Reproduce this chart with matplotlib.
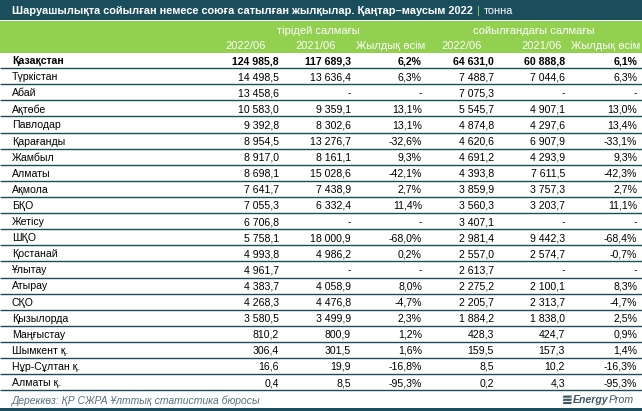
import matplotlib
matplotlib.use("Agg")
import matplotlib.pyplot as plt
from matplotlib.patches import Rectangle, Polygon

plt.rcParams["font.family"] = ["Liberation Sans", "DejaVu Sans"]

DARK = "#1b4e5d"
GREEN = "#92d050"
FOOT = "#55717a"

title = "Шаруашылықта сойылған немесе союға сатылған жылқылар. Қаңтар–маусым 2022"
unit = "тонна"
groups = ["тірідей салмағы", "сойылғандағы салмағы"]
col_heads = ["2022/06", "2021/06", "Жылдық өсім", "2022/06", "2021/06", "Жылдық өсім"]
source = "Дереккөз: ҚР СЖРА Ұлттық статистика бюросы"

regions = ["Қазақстан", "Түркістан", "Абай", "Ақтөбе", "Павлодар", "Қарағанды", "Жамбыл",
           "Алматы", "Ақмола", "БҚО", "Жетісу", "ШҚО", "Қостанай", "Ұлытау", "Атырау",
           "СҚО", "Қызылорда", "Маңғыстау", "Шымкент қ.", "Нұр-Сұлтан қ.", "Алматы қ."]
live_2022 = [124985.8, 14498.5, 13458.6, 10583.0, 9392.8, 8954.5, 8917.0, 8698.1, 7641.7,
             7055.3, 6706.8, 5758.1, 4993.8, 4961.7, 4383.7, 4268.3, 3580.5, 810.2, 306.4,
             16.6, 0.4]
live_2021 = [117689.3, 13636.4, None, 9359.1, 8302.6, 13276.7, 8161.1, 15028.6, 7438.9,
             6332.4, None, 18000.9, 4986.2, None, 4058.9, 4476.8, 3499.9, 800.9, 301.5,
             19.9, 8.5]
live_growth = [6.2, 6.3, None, 13.1, 13.1, -32.6, 9.3, -42.1, 2.7, 11.4, None, -68.0, 0.2,
               None, 8.0, -4.7, 2.3, 1.2, 1.6, -16.8, -95.3]
slaught_2022 = [64631.0, 7488.7, 7075.3, 5545.7, 4874.8, 4620.6, 4691.2, 4393.8, 3859.9,
                3560.3, 3407.1, 2981.4, 2557.0, 2613.7, 2275.2, 2205.7, 1884.2, 428.3, 159.5,
                8.5, 0.2]
slaught_2021 = [60888.8, 7044.6, None, 4907.1, 4297.6, 6907.9, 4293.9, 7611.5, 3757.3,
                3203.7, None, 9442.3, 2574.7, None, 2100.1, 2313.7, 1838.0, 424.7, 157.3,
                10.2, 4.3]
slaught_growth = [6.1, 6.3, None, 13.0, 13.4, -33.1, 9.3, -42.3, 2.7, 11.1, None, -68.4,
                  -0.7, None, 8.3, -4.7, 2.5, 0.9, 1.4, -16.3, -95.3]


def fmt_num(v):
    if v is None:
        return "-"
    return f"{v:,.1f}".replace(",", " ").replace(".", ",")


def fmt_pct(v):
    if v is None:
        return "-"
    return f"{v:.1f}%".replace(".", ",")


columns = [(live_2022, fmt_num), (live_2021, fmt_num), (live_growth, fmt_pct),
           (slaught_2022, fmt_num), (slaught_2021, fmt_num), (slaught_growth, fmt_pct)]
data_x = [279, 351, 422, 494, 565, 637]
head_x = [266, 336, 425, 482, 562, 640]
group_x = [318, 534]

W, H = 642, 411
fig = plt.figure(figsize=(W / 100, H / 100), dpi=100)
ax = fig.add_axes([0, 0, 1, 1])
ax.set_xlim(0, W); ax.set_ylim(H, 0); ax.axis("off")

# title bar + green header band
ax.add_patch(Rectangle((0, 0), W, 20, color=DARK, lw=0))
ax.add_patch(Rectangle((0, 21.5), W, 31.5, color=GREEN, lw=0))
t = ax.text(12, 10.5, title, color="white", fontsize=7.9, fontweight="bold", va="center")
fig.canvas.draw()
bb = t.get_window_extent().transformed(ax.transData.inverted())
t2 = ax.text(bb.x1 + 4, 10.5, "|", color=GREEN, fontsize=7.9, va="center")
bb2 = t2.get_window_extent().transformed(ax.transData.inverted())
ax.text(bb2.x1 + 4, 10.5, unit, color="white", fontsize=7.9, va="center")

for gx, g in zip(group_x, groups):
    ax.text(gx, 30.5, g, color="white", fontsize=8, ha="center", va="center")
for hx, h in zip(head_x, col_heads):
    ax.text(hx, 46, h, color="white", fontsize=8, ha="right", va="center")

# rows
y0, pitch = 68.2, 16.1
for i, name in enumerate(regions):
    line_y = y0 + i * pitch
    yc = line_y - 7.2
    bold = "bold" if i == 0 else "normal"
    ax.text(12, yc, name, fontsize=7.6, fontweight=bold, va="center", color="black")
    for (vals, f), cx in zip(columns, data_x):
        ax.text(cx, yc, f(vals[i]), fontsize=7.6, fontweight=bold, ha="right",
                va="center", color="black")
    ax.plot([0, W], [line_y, line_y], color=DARK, lw=1.0, solid_capstyle="butt")

# footer
ax.text(12, 400.5, source, fontsize=7.5, style="italic", color=FOOT, va="center")
ax.add_patch(Rectangle((0, 408), W, 3, color=DARK, lw=0))

# logo
for k in range(3):
    yb = 395.5 + k * 3.2
    ax.add_patch(Polygon([(563.5, yb), (572, yb), (571.2, yb + 2.2), (562.7, yb + 2.2)],
                         closed=True, color="#3c5a63", lw=0))
lg = ax.text(573, 400, "Energy", fontsize=7.6, style="italic", fontweight="bold",
             color="#3c5a63", va="center")
fig.canvas.draw()
bl = lg.get_window_extent().transformed(ax.transData.inverted())
ax.text(bl.x1, 400, "Prom", fontsize=7.6, style="italic", color="#3c5a63", va="center")

fig.savefig("out.png", dpi=100)
